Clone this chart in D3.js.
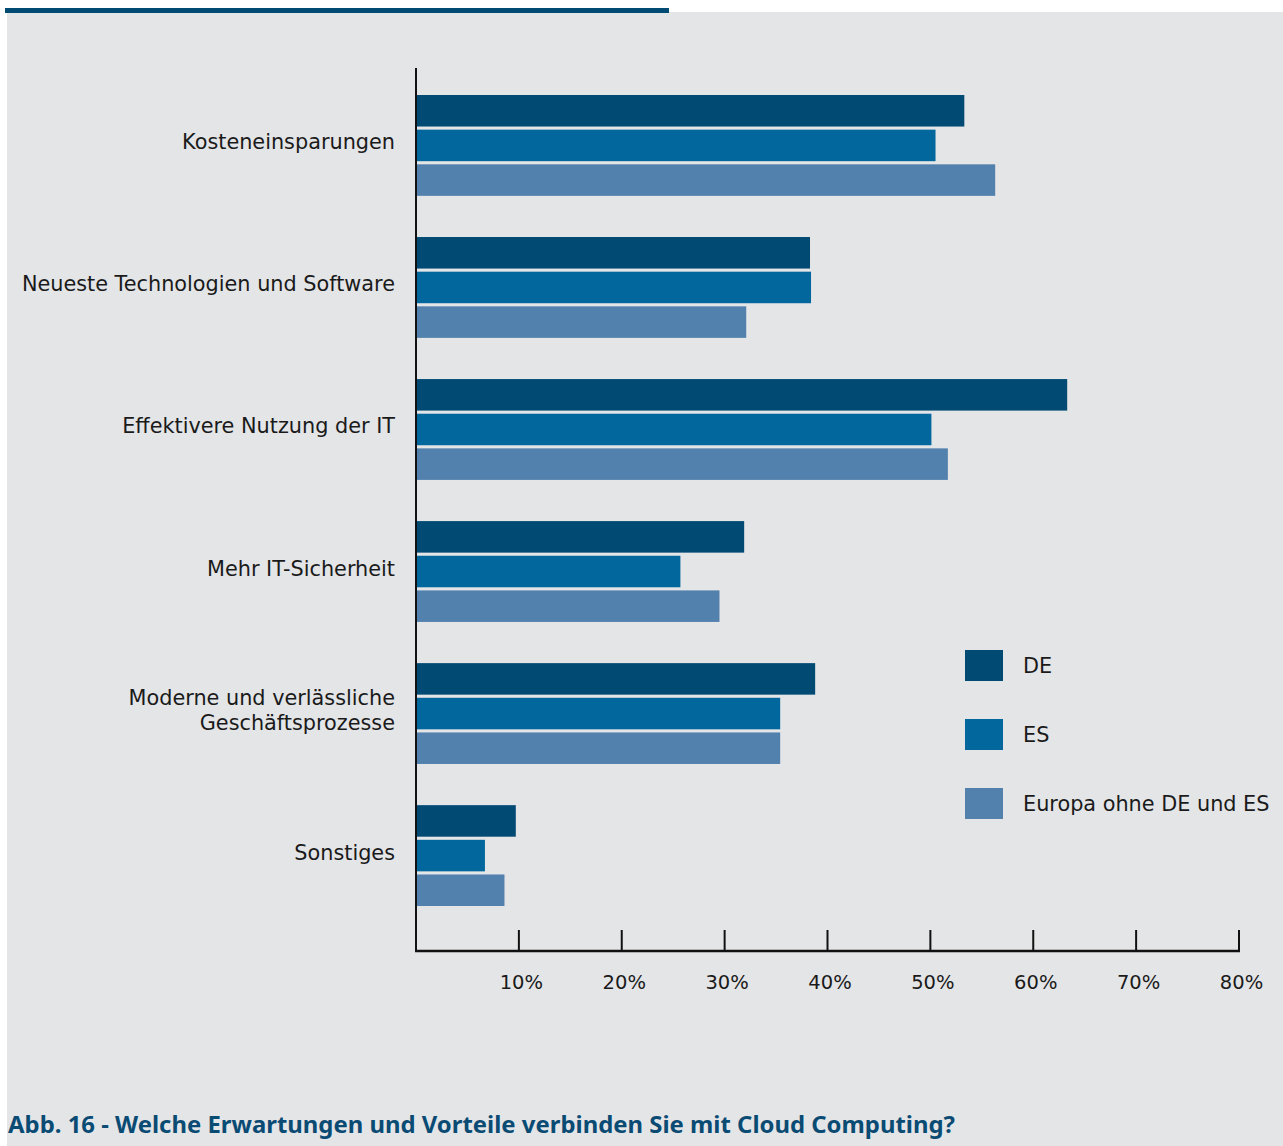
<!DOCTYPE html>
<html>
<head>
<meta charset="utf-8">
<script src="https://cdn.jsdelivr.net/npm/d3@7"></script>
<style>
  html, body { margin: 0; padding: 0; background: #fff; }
  svg { display: block; }
</style>
</head>
<body>
<svg id="chart" width="1283" height="1146"></svg>
<script>
// Category labels (multi-line split by \n)
var categories = [
  'Kosteneinsparungen',
  'Neueste Technologien und Software',
  'Effektivere Nutzung der IT',
  'Mehr IT-Sicherheit',
  'Moderne und verlässliche\nGeschäftsprozesse',
  'Sonstiges'
];
var seriesNames = ['DE', 'ES', 'Europa ohne DE und ES'];
var valuesDE = [53.3, 38.3, 63.3, 31.9, 38.8, 9.7];
var valuesES = [50.5, 38.4, 50.1, 25.7, 35.4, 6.7];
var valuesEU = [56.3, 32.1, 51.7, 29.5, 35.4, 8.6];
var xTicks = [10, 20, 30, 40, 50, 60, 70, 80];
var caption = 'Abb. 16 - Welche Erwartungen und Vorteile verbinden Sie mit Cloud Computing?';

var colors = ['#014a74', '#01679c', '#5281ae'];
var series = [valuesDE, valuesES, valuesEU];

var svg = d3.select('#chart');
var W = 1283, H = 1146;
var fontFam = '"DejaVu Sans", "Noto Sans", sans-serif';

// Background panel and top accent bar
svg.append('rect').attr('x', 7).attr('y', 12).attr('width', W - 7).attr('height', H - 12).attr('fill', '#e4e5e7');
svg.append('rect').attr('x', 5).attr('y', 8).attr('width', 664).attr('height', 5).attr('fill', '#014a74');

var plotLeft = 416, plotRight = 1239, plotTop = 68, axisY = 951;

var x = d3.scaleLinear().domain([0, 80]).range([plotLeft, plotRight]);
var y0 = d3.scaleBand().domain(d3.range(categories.length)).range([95, 906]).paddingInner(0.29).paddingOuter(0);
var y1 = d3.scaleBand().domain(d3.range(series.length)).range([0, y0.bandwidth()]).paddingInner(0.09);

var g = svg.append('g');

// Bars
categories.forEach(function (c, ci) {
  series.forEach(function (vals, si) {
    g.append('rect')
      .attr('x', x(0) + 1)
      .attr('y', y0(ci) + y1(si))
      .attr('width', x(vals[ci]) - x(0) - 1)
      .attr('height', y1.bandwidth())
      .attr('fill', colors[si]);
  });
});

// Y axis line
svg.append('line').attr('x1', plotLeft).attr('x2', plotLeft).attr('y1', plotTop).attr('y2', axisY + 1)
  .attr('stroke', '#111').attr('stroke-width', 2);

// X axis with upward ticks
var xAxis = d3.axisBottom(x).tickValues(xTicks).tickSize(0).tickFormat(function (d) { return d + '%'; });
var ax = svg.append('g').attr('transform', 'translate(0,' + axisY + ')').call(xAxis);
ax.select('.domain').remove();
ax.selectAll('.tick line').remove();
ax.selectAll('.tick text').attr('x', 2).attr('y', 38).attr('dy', 0)
  .style('font-family', fontFam).style('font-size', '19.5px').attr('fill', '#1a1a1a');
xTicks.forEach(function (t) {
  svg.append('line').attr('x1', x(t)).attr('x2', x(t)).attr('y1', axisY - 21).attr('y2', axisY)
    .attr('stroke', '#111').attr('stroke-width', 2);
});
svg.append('line').attr('x1', plotLeft - 1).attr('x2', plotRight + 1).attr('y1', axisY).attr('y2', axisY)
  .attr('stroke', '#111').attr('stroke-width', 2.5);

// Category labels
categories.forEach(function (c, ci) {
  var lines = c.split('\n');
  var cy = y0(ci) + y1(1) + y1.bandwidth() / 2;
  var lh = 25;
  var t = svg.append('text').attr('text-anchor', 'end')
    .style('font-family', fontFam).style('font-size', '20.8px').attr('fill', '#1a1a1a');
  lines.forEach(function (l, li) {
    t.append('tspan').attr('x', 395)
      .attr('y', cy + 4 + (li - (lines.length - 1) / 2) * lh)
      .text(l);
  });
});

// Legend
seriesNames.forEach(function (n, i) {
  var ly = 650 + i * 69;
  svg.append('rect').attr('x', 965).attr('y', ly).attr('width', 38).attr('height', 31).attr('fill', colors[i]);
  svg.append('text').attr('x', 1023).attr('y', ly + 23)
    .style('font-family', fontFam).style('font-size', '20.8px').attr('fill', '#1a1a1a').text(n);
});

// Caption
svg.append('text').attr('x', 8).attr('y', 1133)
  .attr('textLength', 947).attr('lengthAdjust', 'spacingAndGlyphs')
  .style('font-family', '"Noto Sans", "Open Sans", sans-serif').style('font-size', '24px').style('font-weight', 'bold')
  .attr('fill', '#0a4b74').text(caption);
</script>
</body>
</html>
